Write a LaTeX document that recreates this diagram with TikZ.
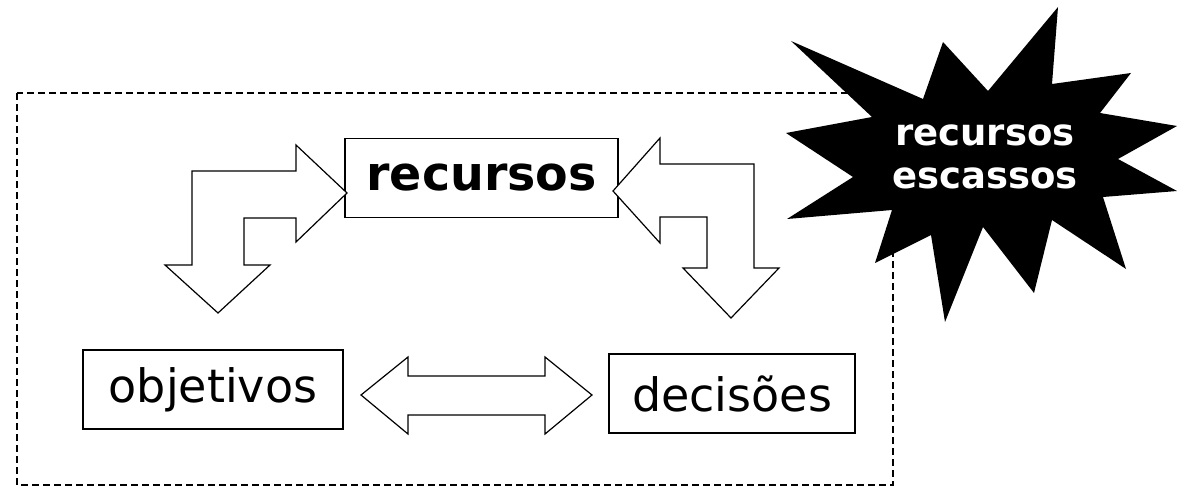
\documentclass[tikz,border=0pt]{standalone}
\usepackage{fontspec}
\setmainfont{DejaVu Sans}
\usetikzlibrary{positioning}
\tikzset{
  box/.style={draw, line width=1.4pt, inner sep=0pt, minimum height=79,
    font=\fontsize{46}{46}\selectfont},
  blockarrow/.style={draw, fill=white, line width=1.2pt, line join=miter},
  frame/.style={draw, line width=1.3pt, dash pattern=on 7pt off 4pt},
}

\begin{document}
\begin{tikzpicture}[x=1pt, y=-1pt]
  \useasboundingbox (0,0) rectangle (1177,486);

  % dashed frame
  \draw [frame] (17,93) rectangle (893,485);

  % boxes
  \node [box, minimum width=273, font=\fontsize{47.5}{47.5}\selectfont\bfseries]
    at (481.5,178) (rec) {recursos};
  \node [box, minimum width=260] at (213,389.5) (obj) {objetivos};
  \node [box, minimum width=246] at (732,393.5) (dec) {decisões};

  % bent arrow, left
  \draw [blockarrow] (347,193) -- (296,145) -- (296,171) -- (192,171)
    -- (192,265) -- (165,265) -- (218,313) -- (270,265) -- (244,265)
    -- (244,218) -- (296,218) -- (296,242) -- cycle;

  % bent arrow, right
  \draw [blockarrow] (613,191) -- (660,138) -- (660,164) -- (754,164)
    -- (754,268) -- (779,268) -- (731,318) -- (683,268) -- (707,268)
    -- (707,217) -- (660,217) -- (660,243) -- cycle;

  % double arrow
  \draw [blockarrow] (361,395) -- (408,357) -- (408,376) -- (545,376)
    -- (545,357) -- (592,395) -- (545,434) -- (545,415) -- (408,415)
    -- (408,434) -- cycle;

  % star
  \fill (1058,7) -- (1052,84) -- (1131,73) -- (1100,113) -- (1177,126)
    -- (1118,159) -- (1177,191) -- (1103,197) -- (1126,269) -- (1052,220)
    -- (1034,293) -- (983,227) -- (945,322) -- (931,235) -- (875,263)
    -- (892,210) -- (787,219) -- (853,177) -- (786,133) -- (872,117)
    -- (791,41) -- (923,99) -- (943,42) -- (988,91) -- cycle;
  \node [text=white, align=center, font=\fontsize{37}{43}\selectfont\bfseries]
    at (985,157) (scarce) {recursos\\escassos};

\end{tikzpicture}
\end{document}
